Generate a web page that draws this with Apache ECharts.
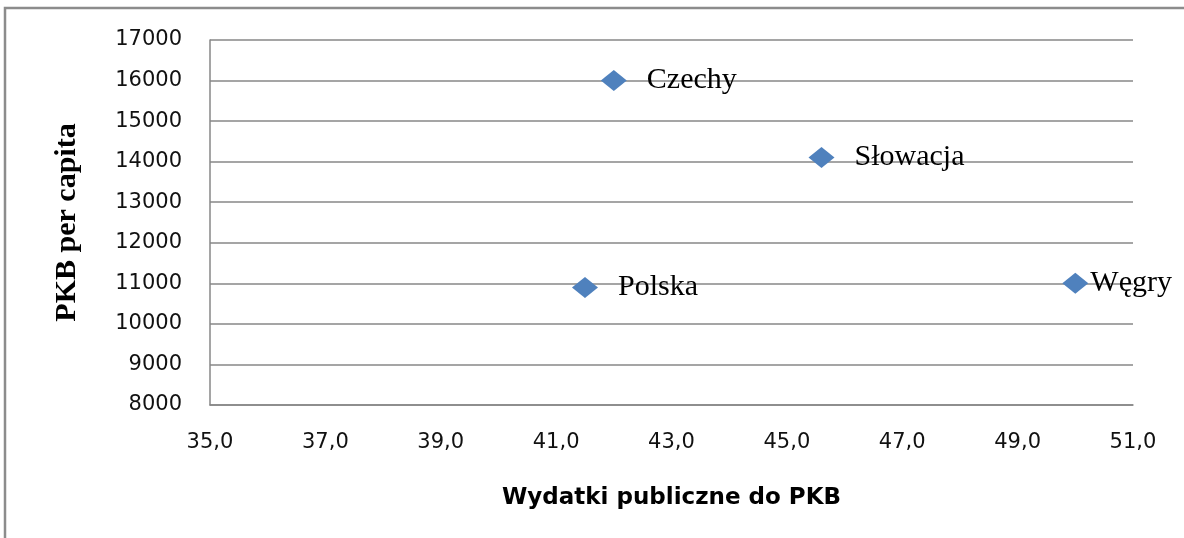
<!DOCTYPE html>
<html>
<head>
<meta charset="utf-8">
<script src="https://cdn.jsdelivr.net/npm/echarts@6/dist/echarts.min.js"></script>
<style>
  html, body { margin: 0; padding: 0; background: #fff; }
  #chart { width: 1184px; height: 538px; }
</style>
</head>
<body>
<div id="chart"></div>
<script>
// kraje i wartosci
var countries = ['Czechy', 'Słowacja', 'Polska', 'Węgry'];
var spending = [42.0, 45.6, 41.5, 50.0];     // wydatki publiczne do PKB
var gdpPerCapita = [16000, 14100, 10900, 11000];

var points = [];
for (var i = 0; i < countries.length; i++) {
  var p = { name: countries[i], value: [spending[i], gdpPerCapita[i]] };
  // etykieta Wegier jest dosunieta do znacznika (brak miejsca przy krawedzi)
  if (countries[i] === 'Węgry') p.label = { distance: 2 };
  points.push(p);
}

var myChart = echarts.init(document.getElementById('chart'));
var gridColor = '#878787';
var option = {
  animation: false,
  backgroundColor: '#fff',
  graphic: [{
    type: 'rect',
    shape: { x: 5, y: 8, width: 1300, height: 700 },
    style: { fill: 'none', stroke: '#8c8c8c', lineWidth: 2.5 },
    silent: true
  }],
  grid: { left: 210, right: 51, top: 40, bottom: 133 },
  xAxis: {
    type: 'value',
    min: 35,
    max: 51,
    interval: 2,
    name: 'Wydatki publiczne do PKB',
    nameLocation: 'middle',
    nameGap: 82,
    nameTextStyle: { fontFamily: 'DejaVu Sans', fontWeight: 'bold', fontSize: 23, color: '#000' },
    axisLine: { show: true, lineStyle: { color: gridColor, width: 1.5 } },
    axisTick: { show: false },
    splitLine: { show: false },
    axisLabel: {
      margin: 27,
      fontFamily: 'DejaVu Sans',
      fontSize: 21,
      color: '#111',
      formatter: function (v) { return v.toFixed(1).replace('.', ','); }
    }
  },
  yAxis: {
    type: 'value',
    min: 8000,
    max: 17000,
    interval: 1000,
    name: 'PKB per capita',
    nameLocation: 'middle',
    nameGap: 128,
    nameTextStyle: { fontFamily: 'Liberation Serif', fontWeight: 'bold', fontSize: 30, color: '#000' },
    axisLine: { show: true, lineStyle: { color: gridColor, width: 1.5 } },
    axisTick: { show: false },
    splitLine: { show: true, lineStyle: { color: gridColor, width: 1.5 } },
    axisLabel: {
      margin: 28,
      fontFamily: 'DejaVu Sans',
      fontSize: 21,
      color: '#111',
      formatter: function (v) { return String(v); }
    }
  },
  series: [{
    type: 'scatter',
    symbol: 'diamond',
    symbolSize: [26, 21],
    itemStyle: { color: '#4F81BD', opacity: 1 },
    label: {
      show: true,
      position: 'right',
      distance: 20,
      formatter: '{b}',
      fontFamily: 'Liberation Serif',
      fontSize: 30,
      color: '#000'
    },
    data: points
  }]
};
myChart.setOption(option);
</script>
</body>
</html>
